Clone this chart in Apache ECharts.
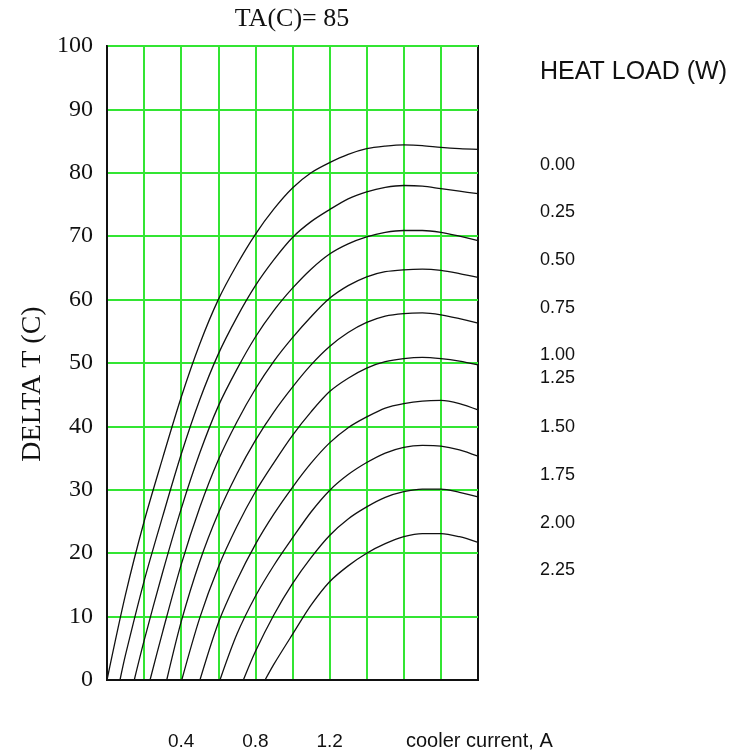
<!DOCTYPE html>
<html>
<head>
<meta charset="utf-8">
<title>TA(C)= 85</title>
<script src="https://cdn.jsdelivr.net/npm/echarts@6/dist/echarts.min.js"></script>
<style>
  html, body { margin: 0; padding: 0; background: #fff; }
  #chart { width: 738px; height: 752px; }
</style>
</head>
<body>
<div id="chart"></div>
<script>
// heat load of each curve, W
var heatLoads = ['0.00', '0.25', '0.50', '0.75', '1.00', '1.25', '1.50', '1.75', '2.00', '2.25'];
// current where each curve leaves DELTA T = 0
var startCurrent = [0, 0.07, 0.147, 0.232, 0.322, 0.403, 0.501, 0.609, 0.735, 0.852];
// cooler current, A
var current = [0.1, 0.2, 0.3, 0.4, 0.5, 0.6, 0.7, 0.8, 0.9, 1.0,
               1.1, 1.2, 1.3, 1.4, 1.5, 1.6, 1.7, 1.8, 1.9, 2.0];
var xTickLabels = ['0.4', '0.8', '1.2'];

// DELTA T (C), one list per heat load
var dT000 = [13.5, 25.0, 35.0, 44.6, 53.0, 60.0, 65.5, 70.3, 74.3, 77.6, 80.0, 81.6, 82.9, 83.8, 84.2, 84.4, 84.3, 84.0, 83.8, 83.7];
var dT025 = [4.0, 15.6, 25.8, 35.6, 44.2, 51.4, 57.2, 62.2, 66.3, 69.8, 72.3, 74.2, 75.9, 77.0, 77.7, 78.0, 77.9, 77.5, 77.1, 76.7];
var dT050 = [null, 6.2, 17.0, 27.0, 35.8, 43.2, 49.0, 54.1, 58.3, 61.8, 64.8, 67.2, 68.8, 69.9, 70.6, 70.9, 70.9, 70.6, 70.0, 69.3];
var dT075 = [null, null, 7.6, 18.2, 27.2, 34.7, 40.7, 45.9, 50.3, 54.0, 57.3, 60.2, 62.2, 63.6, 64.4, 64.7, 64.8, 64.6, 64.1, 63.5];
var dT100 = [null, null, null, 9.2, 18.7, 26.3, 32.5, 37.8, 42.3, 46.2, 49.7, 52.6, 54.8, 56.4, 57.4, 57.8, 57.9, 57.6, 57.0, 56.3];
var dT125 = [null, null, null, null, 9.8, 17.8, 24.2, 29.7, 34.3, 38.6, 42.3, 45.5, 47.6, 49.2, 50.2, 50.7, 50.9, 50.7, 50.3, 49.7];
var dT150 = [null, null, null, null, null, 9.0, 15.7, 21.4, 26.2, 30.4, 34.2, 37.4, 39.8, 41.5, 42.9, 43.6, 44.0, 44.1, 43.6, 42.6];
var dT175 = [null, null, null, null, null, null, 7.2, 13.2, 18.1, 22.4, 26.5, 29.9, 32.4, 34.3, 35.8, 36.7, 37.0, 36.9, 36.3, 35.3];
var dT200 = [null, null, null, null, null, null, null, 4.5, 10.3, 15.2, 19.3, 22.8, 25.4, 27.3, 28.8, 29.7, 30.1, 30.1, 29.6, 28.9];
var dT225 = [null, null, null, null, null, null, null, null, 2.5, 7.2, 11.8, 15.5, 18.0, 20.0, 21.5, 22.6, 23.1, 23.1, 22.6, 21.7];

var curves = [dT000, dT025, dT050, dT075, dT100, dT125, dT150, dT175, dT200, dT225];

var GREEN = '#33e533';
var INK = '#111';
var SERIF = '"Liberation Serif", "Times New Roman", serif';
var SANS = '"Liberation Sans", Arial, sans-serif';

function curveData(k) {
    var pts = [[startCurrent[k], 0]];
    curves[k].forEach(function (v, i) {
        if (v != null) pts.push([current[i], v]);
    });
    return pts;
}

var series = heatLoads.map(function (q, k) {
    return {
        name: q,
        type: 'line',
        data: curveData(k),
        smooth: 0.3,
        showSymbol: false,
        symbol: 'none',
        lineStyle: { color: INK, width: 1.3 },
        z: 5
    };
});

// heat load captions at the right
var labelY = [165, 212, 260, 308, 355, 378, 427, 475, 523, 570];
var graphics = heatLoads.map(function (q, k) {
    return {
        type: 'text', x: 540, y: labelY[k],
        style: { text: q, font: '18px ' + SANS, fill: INK, verticalAlign: 'middle' }
    };
});
graphics.push({
    type: 'text', x: 540, y: 72,
    style: { text: 'HEAT LOAD (W)', font: '25px ' + SANS, fill: INK, verticalAlign: 'middle' }
});
graphics.push({
    type: 'text', x: 406, y: 741,
    style: { text: 'cooler current, A', font: '20px ' + SANS, fill: INK, verticalAlign: 'middle' }
});
// y axis title
graphics.push({
    type: 'text', x: 33, y: 384, rotation: Math.PI / 2,
    style: { text: 'DELTA T (C)', font: '28px ' + SERIF, fill: INK, align: 'center', verticalAlign: 'middle' }
});

var chart = echarts.init(document.getElementById('chart'));
chart.setOption({
    animation: false,
    backgroundColor: '#fff',
    title: {
        text: 'TA(C)= 85',
        left: 287, top: 1, textAlign: 'center',
        textStyle: { fontFamily: SERIF, fontSize: 26, fontWeight: 'normal', color: INK }
    },
    grid: {
        left: 107, top: 46, width: 371, height: 634,
        show: true, borderColor: INK, borderWidth: 2, backgroundColor: '#fff'
    },
    xAxis: {
        type: 'value', min: 0, max: 2, interval: 0.2,
        axisLine: { show: true, lineStyle: { color: INK, width: 2 } },
        axisTick: { show: false },
        axisLabel: {
            margin: 52, fontFamily: SANS, fontSize: 19, color: INK,
            formatter: function (v) {
                var s = v.toFixed(1);
                return xTickLabels.indexOf(s) >= 0 ? s : '';
            }
        },
        splitLine: { show: true, showMinLine: false, showMaxLine: false, lineStyle: { color: GREEN, width: 2 } }
    },
    yAxis: {
        type: 'value', min: 0, max: 100, interval: 10,
        axisLine: { show: true, lineStyle: { color: INK, width: 2 } },
        axisTick: { show: false },
        axisLabel: { margin: 14, fontFamily: SERIF, fontSize: 24, color: INK },
        splitLine: { show: true, showMinLine: false, showMaxLine: true, lineStyle: { color: GREEN, width: 2 } }
    },
    graphic: graphics,
    series: series
});
</script>
</body>
</html>
